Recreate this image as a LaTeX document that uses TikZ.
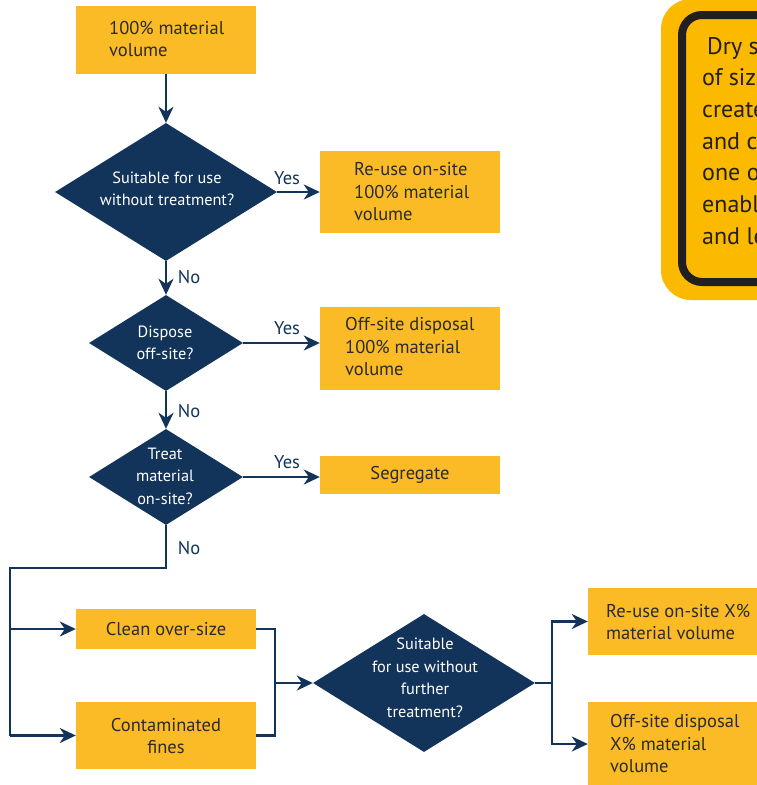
\documentclass[tikz,border=0pt]{standalone}
\usepackage{fontspec}
\setmainfont{PT Sans}
\usetikzlibrary{shapes.geometric,arrows.meta}
\definecolor{navy}{HTML}{12345A}
\definecolor{boxy}{HTML}{FBBB27}
\definecolor{cally}{HTML}{FBB900}
\definecolor{txtd}{HTML}{2B2B2B}
\definecolor{calblk}{HTML}{231F20}
\begin{document}
\begin{tikzpicture}[x=1pt,y=-1pt,
  ybox/.style={fill=boxy, draw=none, inner sep=0pt},
  dia/.style={diamond, fill=navy, draw=none, inner sep=0pt},
  btxt/.style={text=txtd, font=\fontsize{18.5}{22.5}\selectfont, align=left, inner sep=0pt},
  ctxt/.style={text=txtd, font=\fontsize{18.5}{22.5}\selectfont, align=center, inner sep=0pt},
  dtxt/.style={text=white, font=\fontsize{16.3}{22.5}\selectfont, align=center, inner sep=0pt},
  lbl/.style={text=navy, font=\fontsize{18.5}{20}\selectfont, inner sep=0pt},
  conn/.style={draw=navy, line width=2.2pt},
  arr/.style={conn, -{Stealth[length=16pt,width=15pt,inset=5pt]}},
]
\useasboundingbox (0,0) rectangle (757,785);
\clip (0,0) rectangle (757,785);

% callout
\path[fill=cally, rounded corners=30pt] (661,-1) rectangle (820,300);
\path[draw=calblk, line width=8pt, fill=cally, rounded corners=20pt] (682,15) rectangle (820,282);
\node[text=calblk, font=\fontsize{24}{31.7}\selectfont, align=left, inner sep=0pt, anchor=west] (callt) at (702,143)
  {\hspace*{5pt}Dry screening\\of sized material\\creates clean\\and contaminated\\one of which\\enables re-use\\and less disposal};

% boxes
\node[ybox, minimum width=180pt, minimum height=68pt] (b1) at (166,40) {};
\node[btxt, anchor=west] (t1) at (109,39) {100\% material\\volume};

\node[dia, minimum width=222pt, minimum height=138pt] (d1) at (166,192) {};
\node[dtxt] (td1) at (167,189) {Suitable for use\\without treatment?};

\node[ybox, minimum width=180pt, minimum height=82pt] (b2) at (410,192) {};
\node[btxt, anchor=west] (t2) at (354,192) {Re-use on-site\\100\% material\\volume};

\node[dia, minimum width=154pt, minimum height=96pt] (d2) at (166,343) {};
\node[dtxt] (td2) at (165,343) {Dispose\\off-site?};

\node[ybox, minimum width=180pt, minimum height=83pt] (b3) at (410,348) {};
\node[btxt, anchor=west] (t3) at (345,347) {Off-site disposal\\100\% material\\volume};

\node[dia, minimum width=154pt, minimum height=96pt] (d3) at (166,477) {};
\node[dtxt] (td3) at (165,476) {Treat\\material\\on-site?};

\node[ybox, minimum width=180pt, minimum height=38pt] (b4) at (410,475) {};
\node[ctxt] (t4) at (410,475) {Segregate};

\node[ybox, minimum width=180pt, minimum height=40pt] (b5) at (166,629) {};
\node[ctxt] (t5) at (166,629) {Clean over-size};

\node[ybox, minimum width=180pt, minimum height=67pt] (b6) at (166,735.5) {};
\node[ctxt] (t6) at (166,736) {Contaminated\\fines};

\node[dia, minimum width=222pt, minimum height=138pt] (d4) at (424,683) {};
\node[dtxt] (td4) at (425,678) {Suitable\\for use without\\further\\treatment?};

\node[ybox, minimum width=182pt, minimum height=67pt] (b7) at (679,621.5) {};
\node[btxt, anchor=west] (t7) at (606,622) {Re-use on-site X\%\\material volume};

\node[ybox, minimum width=182pt, minimum height=84pt] (b8) at (679,744) {};
\node[btxt, anchor=west] (t8) at (610,744) {Off-site disposal\\X\% material\\volume};

% connectors
\draw[arr] (b1) -- (d1);
\draw[arr] (d1.east) -- (b2.west);
\node[lbl] (y1) at (287,178) {Yes};
\draw[arr] (d1.south) -- (d2.north);
\node[lbl] (n1) at (189,277) {No};
\draw[arr] (d2.east) -- (d2.east -| b3.west);
\node[lbl] (y2) at (287,328) {Yes};
\draw[arr] (d2.south) -- (d3.north);
\node[lbl] (n2) at (189,411) {No};
\draw[arr] (d3.east) -- (d3.east -| b4.west);
\node[lbl] (y3) at (287,462) {Yes};

\coordinate (nojoin) at (166,568);
\coordinate (leftrail) at (10,568);
\draw[conn] (d3.south) -- (nojoin) -- (leftrail) -- (leftrail |- b6.west);
\node[lbl] (n3) at (189,548) {No};
\draw[arr] (leftrail |- b5.west) -- (b5.west);
\draw[arr] (leftrail |- b6.west) -- (b6.west);

\coordinate (mrail) at (275,683);
\draw[conn] (b5.east) -| (mrail);
\draw[conn] (b6.east) -| (mrail);
\draw[arr] (mrail) -- (d4.west);

\coordinate (srail) at (552,683);
\draw[conn] (d4.east) -- (srail);
\draw[arr] (srail) |- (b7.west);
\draw[arr] (srail) |- (b8.west);
\end{tikzpicture}
\end{document}
